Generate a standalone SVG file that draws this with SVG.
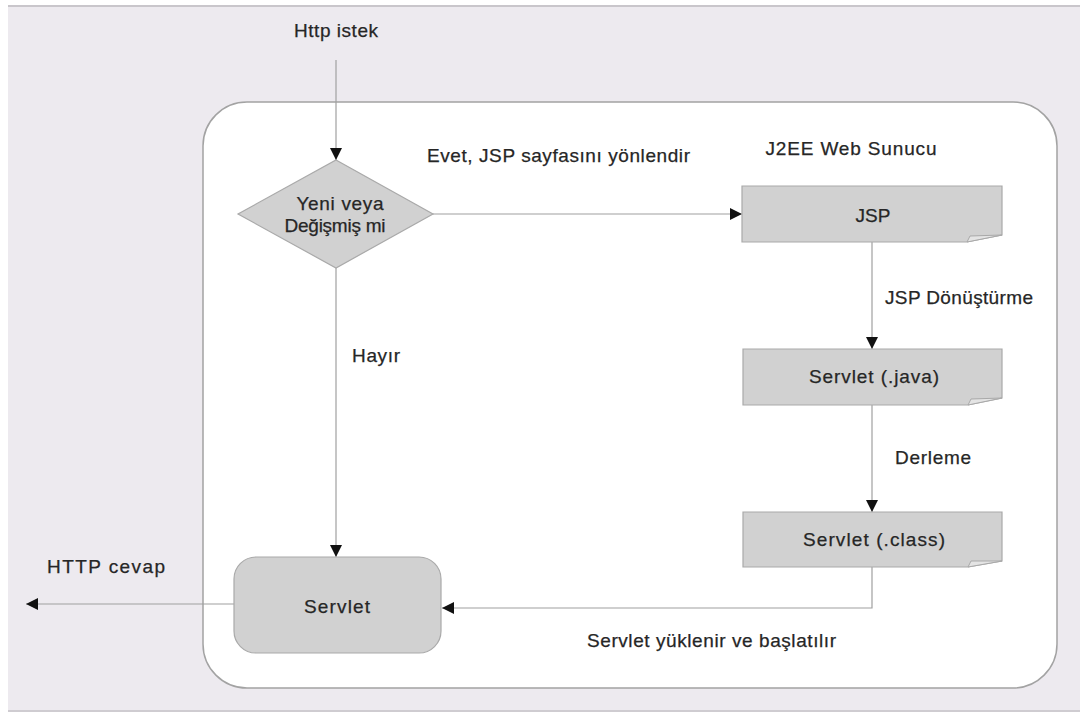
<svg xmlns="http://www.w3.org/2000/svg" width="1080" height="713" viewBox="0 0 1080 713">
  <defs>
    <marker id="arr" markerUnits="userSpaceOnUse" markerWidth="12" markerHeight="12" refX="12" refY="6" orient="auto">
      <path d="M0,0 L12,6 L0,12 Z" fill="#111"/>
    </marker>
    <style>
      .t { font-family: "Liberation Sans", Arial, sans-serif; font-size: 19px; fill: #262626; stroke: #262626; stroke-width: 0.25; }
      .c { text-anchor: middle; }
      .node { fill: #d1d1d1; stroke: #a9a9a9; stroke-width: 1.2; }
      .fold { fill: #e4e4e4; stroke: #a9a9a9; stroke-width: 1; }
      .conn { fill: none; stroke: #a0a0a0; stroke-width: 1.2; }
    </style>
  </defs>

  <!-- background -->
  <rect x="0" y="0" width="1080" height="713" fill="#ffffff"/>
  <rect x="8" y="5" width="1072" height="707" fill="#edeaef"/>
  <rect x="8" y="5" width="1072" height="2" fill="#c9c6cb"/>
  <rect x="8" y="710" width="1072" height="2" fill="#cfccd1"/>

  <!-- container -->
  <g id="container">
    <rect x="203" y="102" width="854" height="586" rx="44" ry="44" fill="#ffffff" stroke="#a3a3a3" stroke-width="1.5"/>
    <text class="t c" x="851" y="155" textLength="171" lengthAdjust="spacing">J2EE Web Sunucu</text>
  </g>

  <!-- connectors -->
  <g id="connectors">
    <line class="conn" x1="336" y1="60" x2="336" y2="160" marker-end="url(#arr)"/>
    <line class="conn" x1="433" y1="214" x2="742" y2="214" marker-end="url(#arr)"/>
    <line class="conn" x1="336" y1="268" x2="336" y2="557" marker-end="url(#arr)"/>
    <line class="conn" x1="872" y1="242" x2="872" y2="349" marker-end="url(#arr)"/>
    <line class="conn" x1="872" y1="405" x2="872" y2="512" marker-end="url(#arr)"/>
    <polyline class="conn" points="872,566 872,608 442,608" marker-end="url(#arr)"/>
    <line class="conn" x1="234" y1="604" x2="26" y2="604" marker-end="url(#arr)"/>
    <text class="t c" x="336" y="37" textLength="84" lengthAdjust="spacing">Http istek</text>
    <text class="t" x="427" y="162" textLength="263" lengthAdjust="spacing">Evet, JSP sayfasını yönlendir</text>
    <text class="t" x="352" y="362" textLength="48" lengthAdjust="spacing">Hayır</text>
    <text class="t" x="885" y="304" textLength="148" lengthAdjust="spacing">JSP Dönüştürme</text>
    <text class="t" x="895" y="464" textLength="76" lengthAdjust="spacing">Derleme</text>
    <text class="t" x="587" y="647" textLength="249" lengthAdjust="spacing">Servlet yüklenir ve başlatılır</text>
    <text class="t" x="47" y="573" textLength="118" lengthAdjust="spacing">HTTP  cevap</text>
  </g>

  <!-- decision -->
  <g id="decision">
    <polygon class="node" points="336,160 433,214 336,268 238,214"/>
    <text class="t c" x="340" y="210" textLength="87" lengthAdjust="spacing">Yeni veya</text>
    <text class="t c" x="335" y="232" textLength="101" lengthAdjust="spacing">Değişmiş mi</text>
  </g>

  <!-- JSP -->
  <g id="jsp">
    <polygon class="node" points="742,186 1002,186 1002,235 967,242 742,242"/>
    <polygon class="fold" points="967,242 970,236 1002,235"/>
    <text class="t c" x="873" y="222">JSP</text>
  </g>

  <!-- Servlet (.java) -->
  <g id="servlet-java">
    <polygon class="node" points="743,349 1002,349 1002,398 968,405 743,405"/>
    <polygon class="fold" points="968,405 971,399 1002,398"/>
    <text class="t c" x="874" y="383" textLength="130" lengthAdjust="spacing">Servlet (.java)</text>
  </g>

  <!-- Servlet (.class) -->
  <g id="servlet-class">
    <polygon class="node" points="743,512 1002,512 1002,561 968,567 743,567"/>
    <polygon class="fold" points="968,567 971,561 1002,561"/>
    <text class="t c" x="874" y="546" textLength="142" lengthAdjust="spacing">Servlet (.class)</text>
  </g>

  <!-- Servlet -->
  <g id="servlet">
    <rect class="node" x="234" y="557" width="207" height="96" rx="22" ry="22"/>
    <text class="t c" x="337" y="613" textLength="66" lengthAdjust="spacing">Servlet</text>
  </g>
</svg>
